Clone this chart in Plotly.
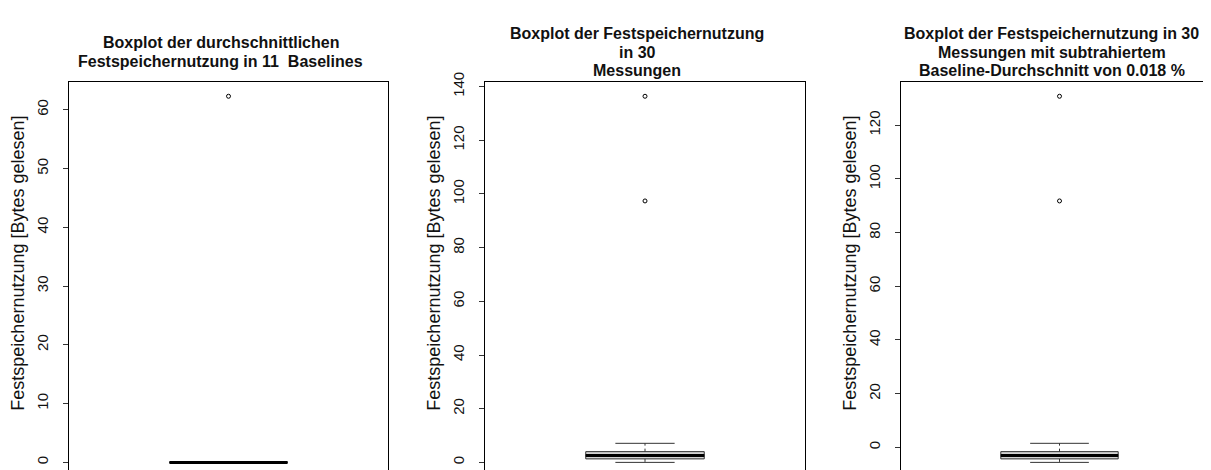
import plotly.graph_objects as go

# ---- data ----
title_lines = [
    ["Boxplot der durchschnittlichen", "Festspeichernutzung in 11\u00a0 Baselines"],
    ["Boxplot der Festspeichernutzung", "in 30", "Messungen"],
    ["Boxplot der Festspeichernutzung in 30", "Messungen mit subtrahiertem",
     "Baseline-Durchschnitt von 0.018 %"],
]
y_label = "Festspeichernutzung [Bytes gelesen]"

lower_whisker = [0.0, 0.0, -5.6]
q1_values = [0.0, 1.3, -4.3]
median_values = [0.0, 2.6, -3.0]
q3_values = [0.0, 4.0, -1.6]
upper_whisker = [0.0, 7.1, 1.5]
outliers = [[62.3], [97.4, 136.4], [91.8, 130.8]]
tick_steps = [10, 20, 20]

# ---- layout geometry (pixels of the 1211x470 page) ----
W, H = 1211, 470
panels_px = [(61, 380), (477, 797), (893, 1210)]
top_px, bottom_px = 65, 469
line_col = "#333333"

fig = go.Figure()
font_fam = "Liberation Sans, Arial, Helvetica, sans-serif"

for i in range(3):
    ax = "" if i == 0 else str(i + 1)
    xref, yref = "x" + ax, "y" + ax
    # box (body only)
    fig.add_trace(go.Box(
        x=[1], q1=[q1_values[i]], median=[median_values[i]], q3=[q3_values[i]],
        lowerfence=[q1_values[i]], upperfence=[q3_values[i]],
        width=0.4, whiskerwidth=0, fillcolor="#d3d3d3",
        line=dict(color=line_col, width=1), boxpoints=False,
        showlegend=False, hoverinfo="skip", xaxis=xref, yaxis=yref,
    ))
    # dashed whiskers with solid caps
    for a, b in [(q3_values[i], upper_whisker[i]), (q1_values[i], lower_whisker[i])]:
        if a != b:
            fig.add_trace(go.Scatter(
                x=[1, 1], y=[a, b], mode="lines",
                line=dict(color=line_col, width=1, dash="3px,3px"),
                showlegend=False, hoverinfo="skip", xaxis=xref, yaxis=yref,
            ))
            fig.add_trace(go.Scatter(
                x=[0.9, 1.1], y=[b, b], mode="lines",
                line=dict(color=line_col, width=1),
                showlegend=False, hoverinfo="skip", xaxis=xref, yaxis=yref,
            ))
    # thick median line
    fig.add_trace(go.Scatter(
        x=[0.8, 1.2], y=[median_values[i], median_values[i]], mode="lines",
        line=dict(color="black", width=3), showlegend=False, hoverinfo="skip",
        xaxis=xref, yaxis=yref,
    ))
    # outliers
    fig.add_trace(go.Scatter(
        x=[1] * len(outliers[i]), y=outliers[i], mode="markers",
        marker=dict(symbol="circle-open", size=4, color="black", line=dict(width=1)),
        showlegend=False, hoverinfo="skip", xaxis=xref, yaxis=yref,
    ))

    lo = min(lower_whisker[i], *outliers[i])
    hi = max(upper_whisker[i], *outliers[i])
    pad = (hi - lo) * 0.04
    x0, x1 = panels_px[i]
    dom_x = [x0 / W, x1 / W]
    dom_y = [1 - bottom_px / H, 1 - top_px / H]
    fig.layout["xaxis" + ax] = dict(
        domain=dom_x, range=[0.46, 1.54], showline=True, mirror=True,
        linecolor="black", linewidth=1, showticklabels=False, ticks="",
        showgrid=False, zeroline=False, anchor=yref,
    )
    fig.layout["yaxis" + ax] = dict(
        domain=dom_y, range=[lo - pad, hi + pad], showline=True, mirror=True,
        linecolor="black", linewidth=1, ticks="outside", ticklen=5,
        tickcolor="#333333", tickangle=-90, dtick=tick_steps[i], tick0=0,
        ticklabelstandoff=9,
        tickfont=dict(family=font_fam, size=15, color="#111111"),
        showgrid=False, zeroline=False, anchor=xref,
    )
    # title (one annotation per line, block centred at 35 px from top)
    n = len(title_lines[i])
    for k, txt in enumerate(title_lines[i]):
        yc = 35 + (k - (n - 1) / 2) * 19
        fig.add_annotation(
            text="<b>" + txt + "</b>", xref="paper", yref="paper",
            x=((x0 + x1) / 2 - 8) / W, y=1 - yc / H, xanchor="center", yanchor="middle",
            showarrow=False, font=dict(family=font_fam, size=16, color="#111111"),
        )
    # y axis label
    fig.add_annotation(
        text=y_label, xref="paper", yref="paper",
        x=(x0 - 51) / W, y=1 - 251 / H,
        xanchor="center", yanchor="middle", textangle=-90, showarrow=False,
        font=dict(family=font_fam, size=18, color="#111111"),
    )

fig.update_layout(
    width=W, height=H, margin=dict(l=0, r=0, t=0, b=0),
    paper_bgcolor="white", plot_bgcolor="white",
)

fig.write_html("out.html")
